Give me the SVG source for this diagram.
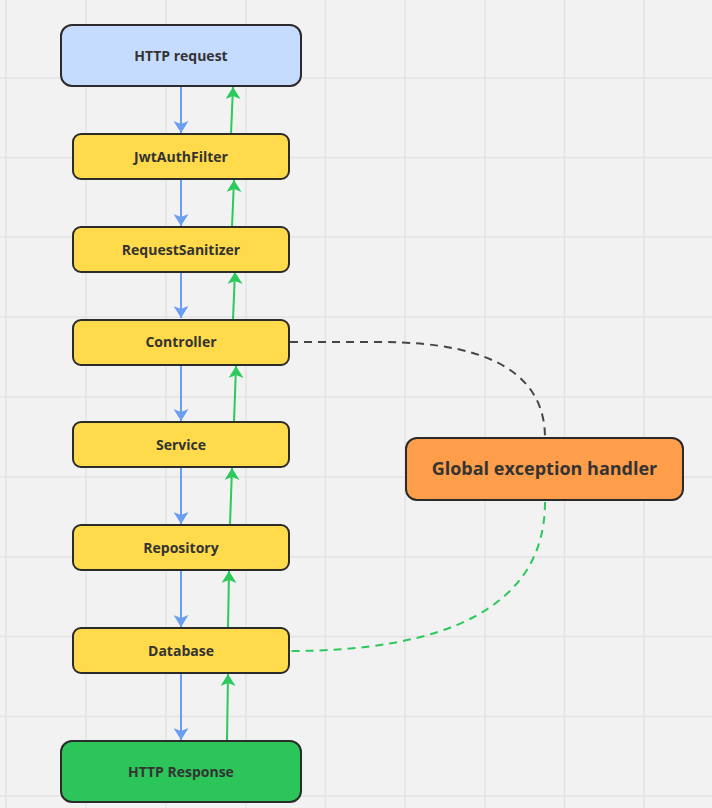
<svg xmlns="http://www.w3.org/2000/svg" width="712" height="808" viewBox="0 0 712 808">
<style>
.n{stroke:#2b2b2b;stroke-width:2}
.y{fill:#ffda4a}
.t{font-family:"Open Sans","Noto Sans","Liberation Sans",sans-serif;font-weight:bold;fill:#333333;text-anchor:middle;dominant-baseline:central}
.s{font-size:14px}
.blue{stroke:#6a9ef0;stroke-width:2;fill:none;marker-end:url(#ab)}
.green{stroke:#2cc95c;stroke-width:2;fill:none;marker-end:url(#ag)}
.grid{stroke:#e3e3e3;stroke-width:1.5}
</style>
<defs>
<marker id="ab" viewBox="0 0 15 12" refX="7.5" refY="12" markerWidth="15" markerHeight="12" markerUnits="userSpaceOnUse" orient="0">
<path d="M0,0 L7.5,12 L15,0 L7.5,3 Z" fill="#6a9ef0"/>
</marker>
<marker id="ag" viewBox="0 0 15 12" refX="7.5" refY="0" markerWidth="15" markerHeight="12" markerUnits="userSpaceOnUse" orient="0">
<path d="M7.5,0 L15,12 L7.5,9 L0,12 Z" fill="#2cc95c"/>
</marker>
</defs>
<rect width="712" height="808" fill="#f2f2f2"/>
<g id="grid" class="grid">
<line x1="6" y1="0" x2="6" y2="808"/><line x1="86" y1="0" x2="86" y2="808"/><line x1="166" y1="0" x2="166" y2="808"/><line x1="246" y1="0" x2="246" y2="808"/><line x1="325.5" y1="0" x2="325.5" y2="808"/><line x1="405" y1="0" x2="405" y2="808"/><line x1="485" y1="0" x2="485" y2="808"/><line x1="564.5" y1="0" x2="564.5" y2="808"/><line x1="644" y1="0" x2="644" y2="808"/>
<line x1="0" y1="78" x2="712" y2="78"/><line x1="0" y1="157.5" x2="712" y2="157.5"/><line x1="0" y1="237" x2="712" y2="237"/><line x1="0" y1="317" x2="712" y2="317"/><line x1="0" y1="397" x2="712" y2="397"/><line x1="0" y1="477" x2="712" y2="477"/><line x1="0" y1="557" x2="712" y2="557"/><line x1="0" y1="636.5" x2="712" y2="636.5"/><line x1="0" y1="716.5" x2="712" y2="716.5"/><line x1="0" y1="796" x2="712" y2="796"/>
</g>
<g id="connectors">
<path class="blue" d="M181,87 V133"/>
<path class="blue" d="M181,180 V226"/>
<path class="blue" d="M181,273 V318"/>
<path class="blue" d="M181,366 V421"/>
<path class="blue" d="M181,468 V524"/>
<path class="blue" d="M181,571 V627"/>
<path class="blue" d="M181,674 V740"/>
<path class="green" d="M231,134 L233,87"/>
<path class="green" d="M232,227 L234,180"/>
<path class="green" d="M233,319 L235,272"/>
<path class="green" d="M234,422 L236,366"/>
<path class="green" d="M230,525 L232,468"/>
<path class="green" d="M228,628 L229,571"/>
<path class="green" d="M227,741 L228,674"/>
<path d="M290,342 L380,342 C500,342 545,380 545,438" fill="none" stroke="#454545" stroke-width="2" stroke-dasharray="8,6"/>
<path d="M545,502 C545,610 440,651 290,651" fill="none" stroke="#2cc95c" stroke-width="2" stroke-dasharray="8,6"/>
</g>
<g id="http-request"><rect class="n" x="61" y="25" width="240" height="61" rx="11" fill="#c6dcff"/><text class="t s" x="181" y="55">HTTP request</text></g>
<g id="jwt-auth-filter"><rect class="n y" x="73" y="134" width="216" height="45" rx="8"/><text class="t s" x="181" y="156">JwtAuthFilter</text></g>
<g id="request-sanitizer"><rect class="n y" x="73" y="227" width="216" height="45" rx="8"/><text class="t s" x="181" y="249">RequestSanitizer</text></g>
<g id="controller"><rect class="n y" x="73" y="320" width="216" height="45" rx="8"/><text class="t s" x="181" y="341">Controller</text></g>
<g id="service"><rect class="n y" x="73" y="422" width="216" height="45" rx="8"/><text class="t s" x="181" y="444">Service</text></g>
<g id="repository"><rect class="n y" x="73" y="525" width="216" height="45" rx="8"/><text class="t s" x="181" y="547">Repository</text></g>
<g id="database"><rect class="n y" x="73" y="628" width="216" height="45" rx="8"/><text class="t s" x="181" y="650">Database</text></g>
<g id="http-response"><rect class="n" x="61" y="741" width="240" height="61" rx="11" fill="#2cc55a"/><text class="t s" x="181" y="771">HTTP Response</text></g>
<g id="global-exception-handler"><rect class="n" x="406" y="438" width="277" height="62" rx="11" fill="#ff9e4a"/><text class="t" style="font-size:18px" x="544.5" y="468">Global exception handler</text></g>
</svg>
